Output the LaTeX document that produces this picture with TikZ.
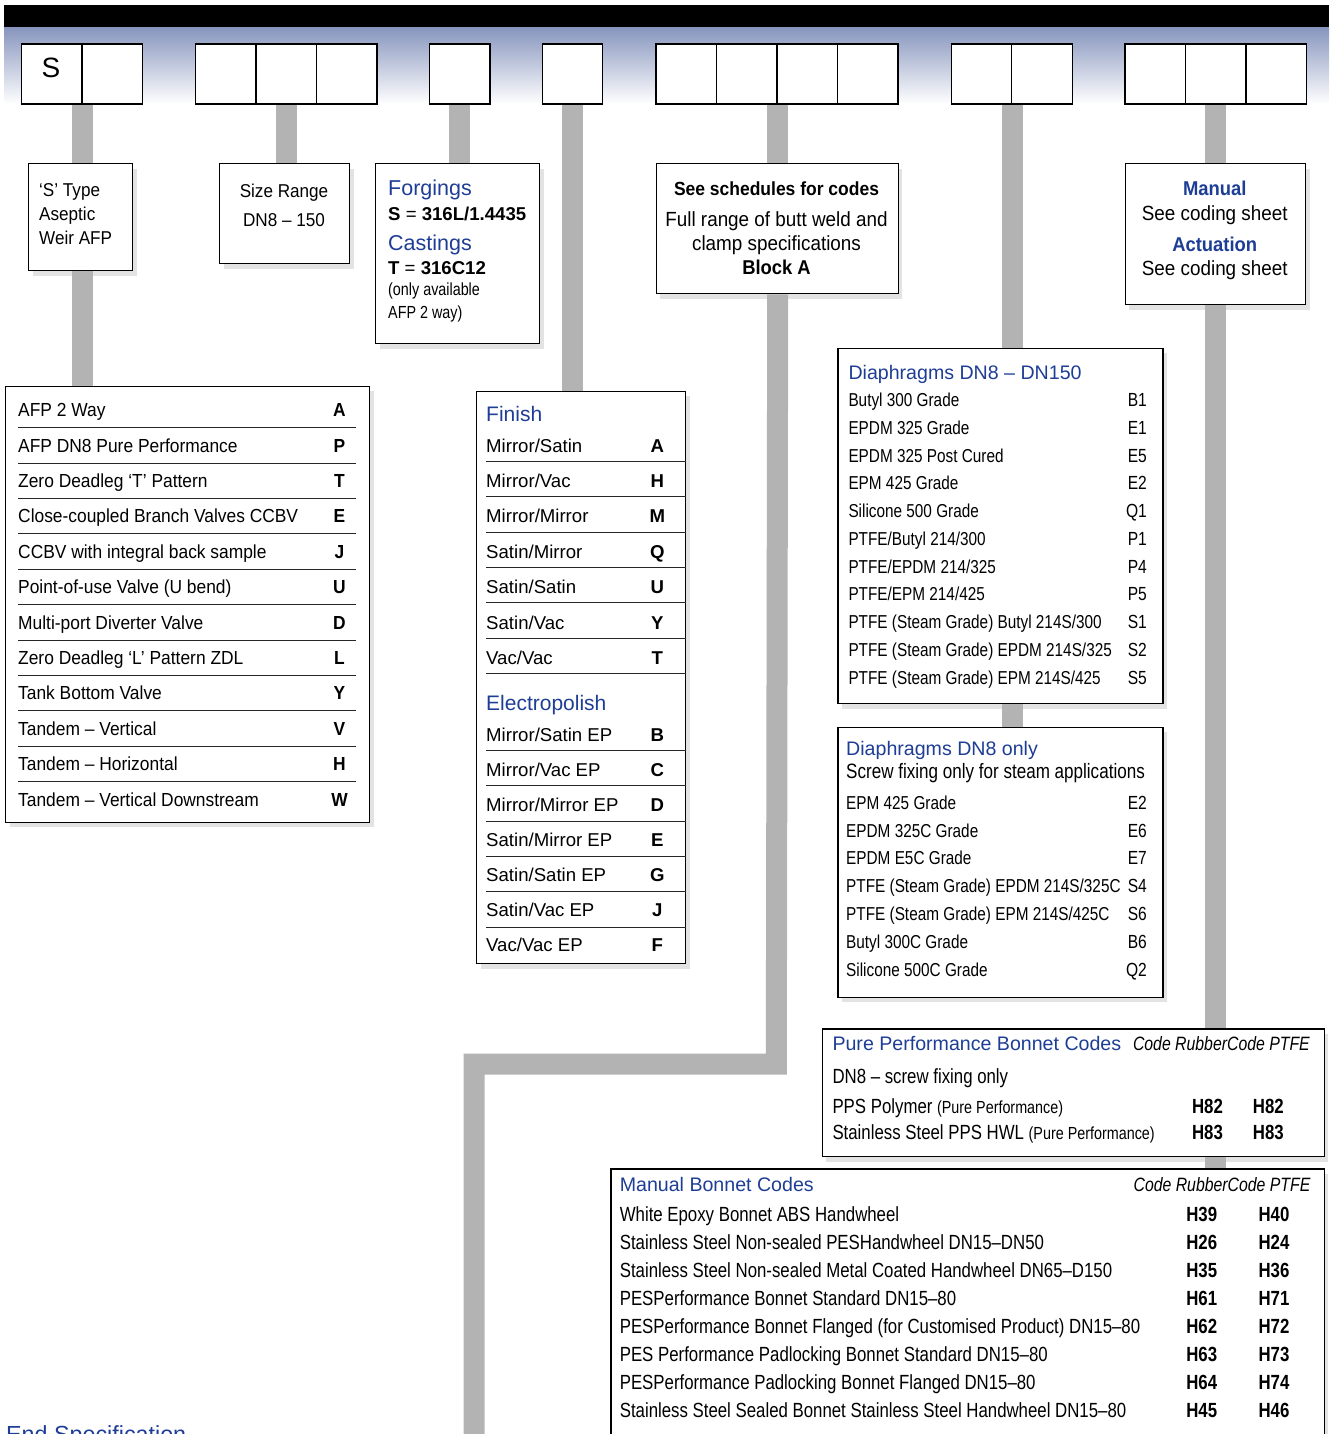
\documentclass[tikz,border=0pt]{standalone}
\usepackage{fontspec}
\setmainfont{Liberation Sans}
\newfontfamily\semifont{Liberation Sans}[FakeStretch=0.92]
\newfontfamily\condfont{Liberation Sans}[FakeStretch=0.82]
\usetikzlibrary{shadows}
\definecolor{codeblue}{RGB}{30,62,150}
\definecolor{bargray}{RGB}{179,179,179}
\definecolor{bandtop}{RGB}{136,150,190}

\begin{document}
\begin{tikzpicture}[x=1pt,y=-1pt,
  cell/.style={draw=black,line width=1.4pt,fill=white,minimum width=60.5pt,minimum height=60pt,inner sep=0pt,anchor=north west},
  panel/.style={draw=black,line width=1.3pt,fill=white,inner sep=0pt,anchor=north west,
    drop shadow={shadow xshift=4pt,shadow yshift=-5pt,opacity=0.22}},
  bar/.style={draw=bargray,line width=21pt,line join=miter},
  sepline/.style={draw=black!85,line width=0.9pt},
  boxtxt/.style={anchor=base west,inner sep=0pt,font=\semifont\fontsize{18.6}{22}\selectfont},
  boxmid/.style={anchor=base,inner sep=0pt,font=\semifont\fontsize{20.5}{24}\selectfont},
  head/.style={anchor=base west,inner sep=0pt,text=codeblue,font=\fontsize{19.6}{23}\selectfont},
  rowA/.style={anchor=base west,inner sep=0pt,font=\semifont\fontsize{18.9}{22}\selectfont},
  codeA/.style={anchor=base,inner sep=0pt,font=\semifont\bfseries\fontsize{18.9}{22}\selectfont},
  rowF/.style={anchor=base west,inner sep=0pt,font=\fontsize{18.6}{22}\selectfont},
  codeF/.style={anchor=base,inner sep=0pt,font=\bfseries\fontsize{18.6}{22}\selectfont},
  rowD/.style={anchor=base west,inner sep=0pt,font=\condfont\fontsize{18.7}{22}\selectfont},
  codeD/.style={anchor=base east,inner sep=0pt,font=\condfont\fontsize{19}{22}\selectfont},
  rowB/.style={anchor=base west,inner sep=0pt,font=\condfont\fontsize{20.5}{24}\selectfont},
  codeB/.style={anchor=base,inner sep=0pt,font=\condfont\bfseries\fontsize{20.5}{24}\selectfont},
  colhead/.style={anchor=base east,inner sep=0pt,font=\condfont\itshape\fontsize{19.3}{22}\selectfont}]

\useasboundingbox (0,0) rectangle (1333,1434);
\clip (0,0) rectangle (1333,1434);

% Header band
\fill[black] (4,5) rectangle (1329,28);
\shade[top color=bandtop,bottom color=white] (4,28) rectangle (1329,104);

% Code boxes
\foreach \cname/\cx in {g1a/20.7,g1b/81.2,g2a/194.6,g2b/255.1,g2c/315.6,g3a/428.6,g4a/541.5,
  g5a/655.3,g5b/715.8,g5c/776.3,g5d/836.8,g6a/950.5,g6b/1011,g7a/1124.4,g7b/1184.9,g7c/1245.4}
  \node[cell] (\cname) at (\cx,43.3) {};
\node[anchor=base,inner sep=0pt,font=\fontsize{28}{32}\selectfont] (sletter) at (50.95,77.5) {S};

% Description boxes
\node[panel,minimum width=104pt,minimum height=107pt] (typebox) at (28,163) {};
\node[panel,minimum width=130pt,minimum height=100pt] (sizebox) at (219,163) {};
\node[panel,minimum width=164pt,minimum height=180pt] (matbox) at (375,163) {};
\node[panel,minimum width=242pt,minimum height=130pt] (endbox) at (655.5,163) {};
\node[panel,minimum width=180.5pt,minimum height=141pt] (actbox) at (1124.5,163) {};

% Tables
\node[panel,minimum width=364pt,minimum height=436pt] (typetab) at (5,385.5) {};
\node[panel,minimum width=209pt,minimum height=572.5pt] (fintab) at (476,390.5) {};
\node[panel,minimum width=325pt,minimum height=355.5pt] (diatab) at (837.3,347.5) {};
\node[panel,minimum width=325pt,minimum height=270pt] (dntab) at (837.3,726.7) {};
\node[panel,minimum width=501.8pt,minimum height=127.7pt] (pptab) at (821.7,1028.3) {};
\node[panel,minimum width=713.2pt,minimum height=300pt] (mantab) at (610.3,1168.3) {};

% Connector bars
\coordinate (bendR) at (776.3,1064);
\coordinate (bendL) at (474,1064);
\coordinate (barfoot) at (474,1445);
\draw[bar] (g1a.south east) -- (g1a.south east |- typebox.north);
\draw[bar] (g1a.south east |- typebox.south) -- (g1a.south east |- typetab.north);
\draw[bar] (g2b.south) -- (g2b.south |- sizebox.north);
\draw[bar] (g3a.south) -- (g3a.south |- matbox.north);
\draw[bar] (g4a.south) -- (g4a.south |- fintab.north);
\draw[bar] (g5b.south east) -- (g5b.south east |- endbox.north);
\draw[bar] (g5b.south east |- endbox.south) -- (bendR) -- (bendL) -- (barfoot);
\draw[bar] (g6a.south east) -- (g6a.south east |- diatab.north);
\draw[bar] (g6a.south east |- diatab.south) -- (g6a.south east |- dntab.north);
\draw[bar] (g7b.south) -- (g7b.south |- actbox.north);
\draw[bar] (g7b.south |- actbox.south) -- (g7b.south |- pptab.north);
\draw[bar] (g7b.south |- pptab.south) -- (g7b.south |- mantab.north);

% Box texts
\node[boxtxt] (type1) at (39,196.5) {‘S’ Type};
\node[boxtxt] (type2) at (39,220.5) {Aseptic};
\node[boxtxt] (type3) at (39,244.5) {Weir AFP};
\node[boxmid,font=\semifont\fontsize{18.6}{22}\selectfont] (size1) at (284,197) {Size Range};
\node[boxmid,font=\semifont\fontsize{18.6}{22}\selectfont] (size2) at (284,226) {DN8 – 150};
\node[head,font=\fontsize{21.5}{24}\selectfont] (forg) at (388,196) {Forgings};
\node[rowF] (forgcode) at (388,220) {\textbf{S} = \textbf{316L/1.4435}};
\node[head,font=\fontsize{21.5}{24}\selectfont] (cast) at (388,250) {Castings};
\node[rowF] (castcode) at (388,274) {\textbf{T} = \textbf{316C12}};
\node[boxtxt,font=\condfont\fontsize{17.5}{20}\selectfont] (castnote1) at (388,295.7) {(only available};
\node[boxtxt,font=\condfont\fontsize{17.5}{20}\selectfont] (castnote2) at (388,318) {AFP 2 way)};
\node[boxmid,font=\semifont\bfseries\fontsize{19}{22}\selectfont] (end1) at (776.5,195.7) {See schedules for codes};
\node[boxmid] (end2) at (776.5,226.7) {Full range of butt weld and};
\node[boxmid] (end3) at (776.5,250) {clamp specifications};
\node[boxmid,font=\semifont\bfseries\fontsize{20}{24}\selectfont] (end4) at (776.5,274) {Block A};
\node[boxmid,text=codeblue,font=\semifont\bfseries\fontsize{20}{24}\selectfont] (act1) at (1214.75,195.7) {Manual};
\node[boxmid] (act2) at (1214.75,220) {See coding sheet};
\node[boxmid,text=codeblue,font=\semifont\bfseries\fontsize{20}{24}\selectfont] (act3) at (1214.75,251) {Actuation};
\node[boxmid] (act4) at (1214.75,275) {See coding sheet};

% Valve type table
\foreach \txt/\code [count=\i] in {{AFP 2 Way}/A,{AFP DN8 Pure Performance}/P,{Zero Deadleg ‘T’ Pattern}/T,
  {Close-coupled Branch Valves CCBV}/E,{CCBV with integral back sample}/J,{Point-of-use Valve (U bend)}/U,
  {Multi-port Diverter Valve}/D,{Zero Deadleg ‘L’ Pattern ZDL}/L,{Tank Bottom Valve}/Y,
  {Tandem – Vertical}/V,{Tandem – Horizontal}/H,{Tandem – Vertical Downstream}/W}
{
  \node[rowA] (vt\i) at (18,{416.7+35.4*(\i-1)}) {\txt};
  \node[codeA] (vtc\i) at (339.5,{416.7+35.4*(\i-1)}) {\code};
}
\foreach \i in {1,...,11}
  \draw[sepline] (18,{427.7+35.4*(\i-1)}) -- (355.7,{427.7+35.4*(\i-1)});

% Finish table
\node[head,font=\fontsize{21}{24}\selectfont] (finhead) at (486,421.4) {Finish};
\foreach \txt/\code [count=\i] in {{Mirror/Satin}/A,{Mirror/Vac}/H,{Mirror/Mirror}/M,{Satin/Mirror}/Q,
  {Satin/Satin}/U,{Satin/Vac}/Y,{Vac/Vac}/T}
{
  \node[rowF] (fin\i) at (486,{452+35.4*(\i-1)}) {\txt};
  \node[codeF] (finc\i) at (657.3,{452+35.4*(\i-1)}) {\code};
  \draw[sepline] (486,{461.2+35.4*(\i-1)}) -- (fintab.east |- 0,{461.2+35.4*(\i-1)});
}
\node[head,font=\fontsize{21}{24}\selectfont] (ephead) at (486,710.3) {Electropolish};
\foreach \txt/\code [count=\i] in {{Mirror/Satin EP}/B,{Mirror/Vac EP}/C,{Mirror/Mirror EP}/D,
  {Satin/Mirror EP}/E,{Satin/Satin EP}/G,{Satin/Vac EP}/J,{Vac/Vac EP}/F}
{
  \node[rowF] (ep\i) at (486,{741+35.1*(\i-1)}) {\txt};
  \node[codeF] (epc\i) at (657.3,{741+35.1*(\i-1)}) {\code};
}
\foreach \i in {1,...,6}
  \draw[sepline] (486,{750.5+35.3*(\i-1)}) -- (fintab.east |- 0,{750.5+35.3*(\i-1)});

% Diaphragm tables
\node[head] (diahead) at (848.3,379.3) {Diaphragms DN8 – DN150};
\foreach \txt/\code [count=\i] in {{Butyl 300 Grade}/B1,{EPDM 325 Grade}/E1,{EPDM 325 Post Cured}/E5,
  {EPM 425 Grade}/E2,{Silicone 500 Grade}/Q1,{PTFE/Butyl 214/300}/P1,{PTFE/EPDM 214/325}/P4,
  {PTFE/EPM 214/425}/P5,{PTFE (Steam Grade) Butyl 214S/300}/S1,{PTFE (Steam Grade) EPDM 214S/325}/S2,
  {PTFE (Steam Grade) EPM 214S/425}/S5}
{
  \node[rowD] (dia\i) at (848.3,{406.7+27.75*(\i-1)}) {\txt};
  \node[codeD] (diac\i) at (1147,{406.7+27.75*(\i-1)}) {\code};
}
\node[head] (dnhead) at (846,755) {Diaphragms DN8 only};
\node[rowD,font=\condfont\fontsize{20.8}{24}\selectfont] (dnnote) at (846,778.3) {Screw fixing only for steam applications};
\foreach \txt/\code [count=\i] in {{EPM 425 Grade}/E2,{EPDM 325C Grade}/E6,{EPDM E5C Grade}/E7,
  {PTFE (Steam Grade) EPDM 214S/325C}/S4,{PTFE (Steam Grade) EPM 214S/425C}/S6,
  {Butyl 300C Grade}/B6,{Silicone 500C Grade}/Q2}
{
  \node[rowD] (dn\i) at (846,{809.3+27.8*(\i-1)}) {\txt};
  \node[codeD] (dnc\i) at (1147,{809.3+27.8*(\i-1)}) {\code};
}

% Bonnet tables
\node[head] (pphead) at (832.3,1050.7) {Pure Performance Bonnet Codes};
\node[colhead] (ppcols) at (1310,1050.7) {Code RubberCode PTFE};
\node[rowB] (ppnote) at (832.3,1083.3) {DN8 – screw fixing only};
\node[rowB] (pp1) at (832.3,1113.3) {PPS Polymer {\fontsize{17.5}{20}\selectfont(Pure Performance)}};
\node[codeB] (pp1a) at (1207.5,1113.3) {H82};
\node[codeB] (pp1b) at (1268.3,1113.3) {H82};
\node[rowB] (pp2) at (832.3,1139) {Stainless Steel PPS HWL {\fontsize{17.5}{20}\selectfont(Pure Performance)}};
\node[codeB] (pp2a) at (1207.5,1139) {H83};
\node[codeB] (pp2b) at (1268.3,1139) {H83};

\node[head] (manhead) at (619.6,1191.7) {Manual Bonnet Codes};
\node[colhead] (mancols) at (1310.6,1191.7) {Code RubberCode PTFE};
\foreach \txt/\ca/\cb [count=\i] in {{White Epoxy Bonnet ABS Handwheel}/H39/H40,
  {Stainless Steel Non-sealed PESHandwheel DN15–DN50}/H26/H24,
  {Stainless Steel Non-sealed Metal Coated Handwheel DN65–D150}/H35/H36,
  {PESPerformance Bonnet Standard DN15–80}/H61/H71,
  {PESPerformance Bonnet Flanged (for Customised Product) DN15–80}/H62/H72,
  {PES Performance Padlocking Bonnet Standard DN15–80}/H63/H73,
  {PESPerformance Padlocking Bonnet Flanged DN15–80}/H64/H74,
  {Stainless Steel Sealed Bonnet Stainless Steel Handwheel DN15–80}/H45/H46}
{
  \node[rowB] (man\i) at (619.6,{1221.7+27.94*(\i-1)}) {\txt};
  \node[codeB] (man\i a) at (1201.7,{1221.7+27.94*(\i-1)}) {\ca};
  \node[codeB] (man\i b) at (1274,{1221.7+27.94*(\i-1)}) {\cb};
}

% Section title (cut by the page edge)
\node[head,font=\fontsize{23.3}{26}\selectfont] (endspec) at (6,1442) {End Specification};
\end{tikzpicture}
\end{document}
